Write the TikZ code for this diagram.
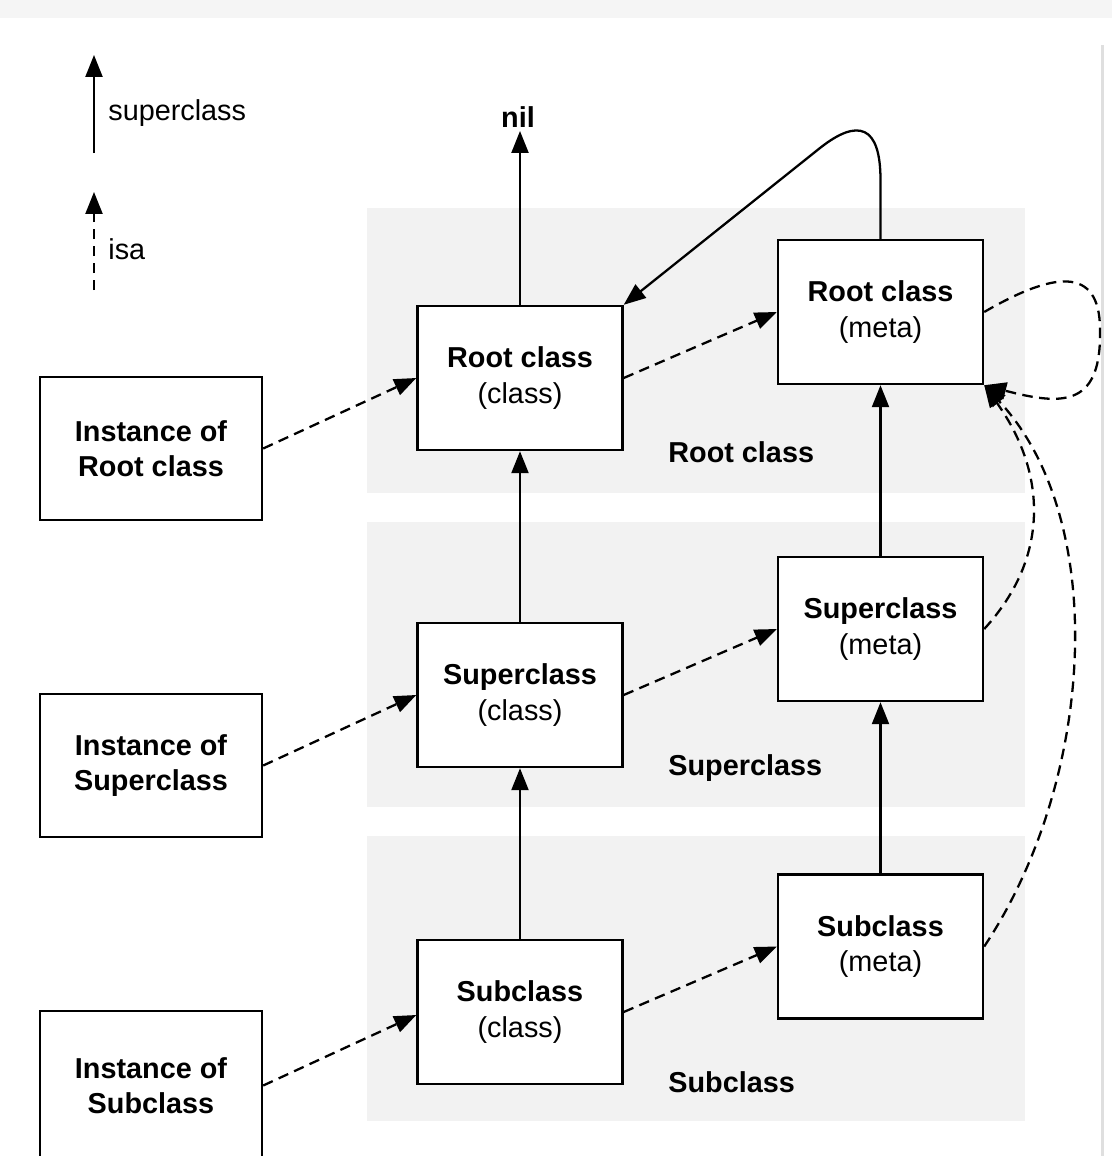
\documentclass[tikz,border=0pt]{standalone}
\usepackage{fontspec}
\setmainfont{Liberation Sans}
\usetikzlibrary{arrows.meta}
\definecolor{panelgray}{HTML}{F2F2F2}
\definecolor{stripgray}{HTML}{F5F5F5}

\begin{document}
\begin{tikzpicture}[x=0.02cm,y=-0.02cm,
  font=\fontsize{16.4}{20}\selectfont,
  classbox/.style={draw,line width=1.4pt,fill=white,align=center,
    minimum width=4.1cm,minimum height=2.88cm},
  instbox/.style={classbox,minimum width=4.44cm,minimum height=2.86cm},
  supline/.style={line width=1.3pt,-{Triangle[length=0.44cm,width=0.34cm]}},
  isaline/.style={supline,dash pattern=on 0.21cm off 0.13cm}]
  \useasboundingbox (0,0) rectangle (1112,1156);
  \fill[stripgray] (0,0) rectangle (1112,18);
  \fill[gray!25] (1101,45) rectangle (1104,1156);
  % panels
  \foreach \y in {208,522,836} \fill[panelgray] (367,\y) rectangle (1025,\y+285);
  % legend
  \coordinate (legS0) at (94,153); \coordinate (legS1) at (94,55);
  \coordinate (legI0) at (94,290); \coordinate (legI1) at (94,192);
  \draw[supline] (legS0) -- (legS1);
  \draw[isaline] (legI0) -- (legI1);
  \node[anchor=west,inner sep=0] (legStext) at (108,113) {superclass};
  \node[anchor=west,inner sep=0] (legItext) at (108,249) {isa};
  % instances
  \node[instbox] (instroot) at (151,448.5) {\textbf{Instance of}\\\textbf{Root class}};
  \node[instbox] (instsup) at (151,765.5) {\textbf{Instance of}\\\textbf{Superclass}};
  \node[instbox,minimum height=2.98cm] (instsub) at (151,1085.5) {\textbf{Instance of}\\\textbf{Subclass}};
  % classes
  \node[classbox] (rootcls) at (520,378) {\textbf{Root class}\\(class)};
  \node[classbox] (supcls) at (520,695) {\textbf{Superclass}\\(class)};
  \node[classbox] (subcls) at (520,1012) {\textbf{Subclass}\\(class)};
  % metaclasses
  \node[classbox] (rootmeta) at (880.5,312) {\textbf{Root class}\\(meta)};
  \node[classbox] (supmeta) at (880.5,629) {\textbf{Superclass}\\(meta)};
  \node[classbox] (submeta) at (880.5,946.5) {\textbf{Subclass}\\(meta)};
  % panel labels
  \node[anchor=west,inner sep=0,font=\fontsize{16.4}{20}\selectfont\bfseries] (lblroot) at (668,452) {Root class};
  \node[anchor=west,inner sep=0,font=\fontsize{16.4}{20}\selectfont\bfseries] (lblsup) at (668,768) {Superclass};
  \node[anchor=west,inner sep=0,font=\fontsize{16.4}{20}\selectfont\bfseries] (lblsub) at (668,1082) {Subclass};
  \node[anchor=south,inner sep=2pt,font=\fontsize{16.4}{20}\selectfont\bfseries] (nil) at (518,131) {nil};
  % superclass chain
  \draw[supline] (rootcls.north) -- (rootcls.north |- nil.south);
  \draw[supline] (supcls) -- (rootcls);
  \draw[supline] (subcls) -- (supcls);
  \draw[supline] (supmeta) -- (rootmeta);
  \draw[supline] (submeta) -- (supmeta);
  \draw[supline] (rootmeta.north) -- (880.5,180)
    .. controls (880.5,125) and (858,118) .. (820,148) -- (rootcls.north east);
  % isa pointers
  \draw[isaline] (instroot.east) -- (rootcls.west);
  \draw[isaline] (instsup.east) -- (supcls.west);
  \draw[isaline] (instsub.east) -- ([yshift=-0.06cm]subcls.west);
  \draw[isaline] (rootcls.east) -- (rootmeta.west);
  \draw[isaline] (supcls.east) -- (supmeta.west);
  \draw[isaline] (subcls.east) -- (submeta.west);
  \draw[isaline] (rootmeta.east) .. controls (1060,268) and (1102,268) .. (1100,335)
    .. controls (1100,408) and (1060,405) .. (rootmeta.south east);
  \draw[isaline] (supmeta.east) .. controls (1052,555) and (1045,470) .. (rootmeta.south east);
  \draw[isaline] (submeta.east) .. controls (1095,780) and (1110,520) .. (rootmeta.south east);
\end{tikzpicture}
\end{document}
